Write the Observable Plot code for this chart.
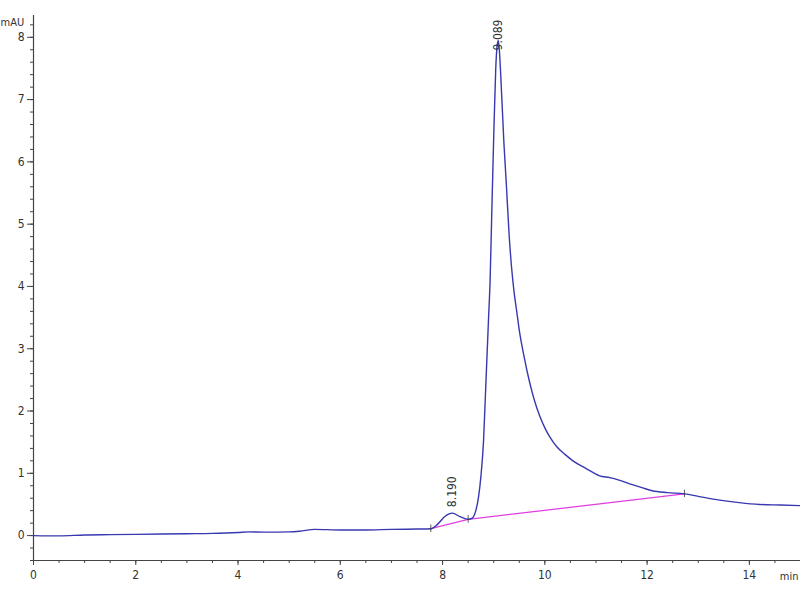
<!DOCTYPE html>
<html>
<head>
<meta charset="utf-8">
<script src="https://cdn.jsdelivr.net/npm/d3@7"></script>
<script src="https://cdn.jsdelivr.net/npm/@observablehq/plot@0.6"></script>
<style>
  html, body { margin: 0; padding: 0; background: #fff; }
  #chart svg { display: block; }
</style>
</head>
<body>
<div id="chart"></div>
<script>
// Retention time (min) and absorbance (mAU)
const times = [0, 0.5, 1.0, 1.5, 2.0, 2.5, 3.0, 3.5, 4.0, 4.2, 4.5, 5.0, 5.2, 5.5, 6.0, 6.5, 7.0, 7.5, 7.77,
  7.9, 8.05, 8.19, 8.35, 8.5, 8.58, 8.65, 8.7, 8.75, 8.8, 8.85, 8.9, 8.93, 8.96, 9.0, 9.04, 9.065, 9.089,
  9.11, 9.14, 9.2, 9.25, 9.3, 9.35, 9.4, 9.45, 9.5, 9.6, 9.7, 9.8, 9.9, 10.0, 10.1, 10.23, 10.4, 10.55, 10.8, 11.07,
  11.27, 11.45, 11.66, 11.9, 12.1, 12.4, 12.73, 13.0, 13.42, 13.8, 14.2, 14.6, 15.0];
const values = [0.0, -0.005, 0.01, 0.015, 0.02, 0.025, 0.03, 0.035, 0.05, 0.06, 0.055, 0.06, 0.07, 0.1, 0.09, 0.09, 0.1, 0.105, 0.11,
  0.18, 0.31, 0.36, 0.3, 0.26, 0.28, 0.4, 0.6, 0.95, 1.5, 2.5, 3.5, 4.1, 5.1, 6.4, 7.5, 7.85, 7.95,
  7.8, 7.35, 6.3, 5.6, 4.85, 4.3, 3.9, 3.6, 3.3, 2.85, 2.47, 2.16, 1.92, 1.73, 1.58, 1.43, 1.3, 1.2, 1.08, 0.96,
  0.93, 0.89, 0.83, 0.77, 0.72, 0.69, 0.67, 0.63, 0.57, 0.53, 0.5, 0.49, 0.48];

// Integration baseline (start, valley, end)
const baseTimes = [7.77, 8.5, 12.73];
const baseValues = [0.11, 0.26, 0.67];

// Peak annotations
const peakTimes = [8.19, 9.089];
const peakValues = [0.36, 7.95];
const peakLabels = ["8.190", "9.089"];

// Axis ticks
const xMajor = [0, 2, 4, 6, 8, 10, 12, 14];
const xMinor = d3.range(0, 15.01, 0.5);
const yMajor = [0, 1, 2, 3, 4, 5, 6, 7, 8];
const yMinor = d3.range(-0.4, 8.35, 0.2).map(v => Math.round(v * 10) / 10);

const signal = times.map((t, i) => ({t, v: values[i]}));
const baseline = baseTimes.map((t, i) => ({t, v: baseValues[i]}));
const peaks = peakTimes.map((t, i) => ({t, v: peakValues[i], label: peakLabels[i]}));

const font = "'DejaVu Sans Condensed', 'Liberation Sans', Arial, sans-serif";
const axisColor = "#444";
const blank = () => "";

const chart = Plot.plot({
  width: 800,
  height: 600,
  marginLeft: 33,
  marginRight: 0,
  marginTop: 15,
  marginBottom: 40,
  style: {fontFamily: font, fontSize: "12px", color: "#333", background: "#fff", overflow: "visible"},
  x: {domain: [0, 15]},
  y: {domain: [-0.4, 8.35]},
  marks: [
    Plot.axisX({ticks: xMinor, tickSize: 3, tickFormat: blank, label: null, stroke: axisColor}),
    Plot.axisX({ticks: xMajor, tickSize: 5, tickPadding: 5, label: null, stroke: axisColor, fontSize: 12}),
    Plot.axisY({ticks: yMinor, tickSize: 3, tickFormat: blank, label: null, stroke: axisColor}),
    Plot.axisY({ticks: yMajor, tickSize: 6, tickPadding: 3, label: null, stroke: axisColor, fontSize: 12}),
    Plot.ruleX([0], {stroke: axisColor, strokeWidth: 1.2}),
    Plot.ruleY([-0.4], {stroke: axisColor, strokeWidth: 1.2}),
    Plot.line(baseline, {x: "t", y: "v", stroke: "#e040e0", strokeWidth: 1.3}),
    Plot.line(signal, {x: "t", y: "v", stroke: "#3838b0", strokeWidth: 1.4, curve: "monotone-x"}),
    Plot.ruleX(baseline, {x: "t", y1: d => d.v - 0.06, y2: d => d.v + 0.06, stroke: "#333", strokeWidth: 0.8}),
    Plot.text([peaks[0]], {x: "t", y: "v", text: "label", rotate: -90, textAnchor: "start", dy: -6, fill: "#333", fontSize: 12}),
    Plot.text([peaks[1]], {x: "t", y: "v", text: "label", rotate: -90, textAnchor: "start", dy: 10, fill: "#333", fontSize: 12}),
    Plot.text(["mAU"], {frameAnchor: "top-left", text: d => d, textAnchor: "start", dx: -33, dy: 3, fill: "#333", fontSize: 11}),
    Plot.text(["min"], {frameAnchor: "bottom-right", text: d => d, textAnchor: "end", dx: -2, dy: 19, fill: "#333", fontSize: 11})
  ]
});
document.getElementById("chart").appendChild(chart);
</script>
</body>
</html>
